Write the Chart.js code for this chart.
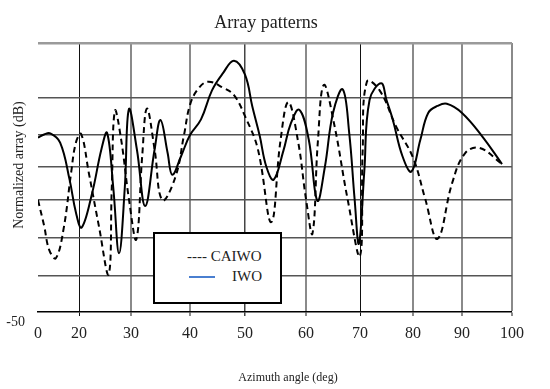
<!DOCTYPE html>
<html lang="en">
<head>
    <meta charset="UTF-8">
    <title>Array patterns</title>
    <script src="https://cdn.jsdelivr.net/npm/chart.js"></script>
    <style>
        body { margin: 0; background: #fff; }
        #wrap { position: relative; width: 550px; height: 389px; }
        #legendBox {
            position: absolute; left: 153px; top: 232px; width: 125px; height: 68px;
            border: 2px solid #000; background: #fff;
            font-family: "Liberation Serif", serif; font-size: 15px; color: #222;
        }
        #legendBox .row { position: absolute; white-space: nowrap; }
        #legendBox .blue { position: absolute; left: 34px; top: 42px; width: 26px; height: 2px; background: #4a7fd0; }
    </style>
</head>
<body>
<div id="wrap">
    <canvas id="chart" width="550" height="389"></canvas>
    <!-- legenda disegnata a mano come nell'originale -->
    <div id="legendBox">
        <div class="row" style="left:32px; top:14px;">---- CAIWO</div>
        <div class="blue"></div>
        <div class="row" style="left:77px; top:34px;">IWO</div>
    </div>
</div>

<script>
    // asse x: etichette e gradi corrispondenti
    const tickDeg = [0, 20, 30, 40, 50, 60, 70, 80, 90, 100];
    const tickLabels = ['0', '20', '30', '40', '50', '60', '70', '80', '90', '100'];
    // l'asse dell'originale non e' lineare: posizione di ogni tacca lungo l'asse
    const tickStops = [0, 41, 93, 152, 207, 268, 322, 375, 424, 474];

    // livelli delle linee orizzontali (dB)
    const yGrid = [-50, -43.3, -36.2, -29.2, -23, -17.1, -10.2, 0];

    // IWO (linea continua)
    const iwoDeg = [0, 3, 6, 10.8, 15.4, 18.5, 20.5, 22.5, 24.3, 25.4,
        26.6, 27.7, 28.8, 29.6, 31, 32.4, 34, 35, 36.2, 37,
        38.5, 40, 42, 44, 46, 48, 50, 51.2, 52.4, 53.5,
        54.7, 56.3, 57.5, 58.9, 60.5, 62.1, 63.5, 65, 66.8, 68,
        69, 69.8, 70.8, 71.8, 74, 75, 76.2, 78, 79.7, 81.5,
        83.1, 85, 86.9, 90, 94, 98];
    const iwoDb = [-17.6, -17, -16.8, -18.5, -25.4, -31.5, -34.3, -28, -19.8, -16.7,
        -27, -39.1, -27, -12.3, -19.8, -30.3, -19.8, -14.3, -20.4, -24.5,
        -21, -17.1, -14.2, -8.8, -5.6, -3.3, -5.9, -11.8, -17.2, -23,
        -25.4, -20, -15, -12.4, -17.9, -29.3, -23, -13, -8.6, -16.7,
        -29, -37.3, -24, -10.6, -7.5, -10.6, -14.3, -21, -23.9, -18,
        -13, -11.7, -11.3, -13, -17.3, -22.5];

    // CAIWO (linea tratteggiata)
    const caiwoDeg = [0, 3, 5.5, 8.7, 12.5, 16.2, 18.5, 20.4, 21.9, 23.8,
        25.7, 26.3, 26.9, 28.1, 29.6, 30.9, 31.9, 32.7, 34, 35.3,
        37.5, 39, 40, 41.5, 43.3, 46, 48, 50, 52.1, 54.3,
        55.8, 57.1, 58.7, 60, 61.2, 62.2, 63.3, 65.2, 67.7, 70,
        70.5, 71.3, 73.7, 76.8, 80, 82.5, 85, 88, 90.6, 93.5,
        98];
    const caiwoDb = [-29.2, -34, -38.5, -40, -34.5, -24, -18.5, -16.9, -24.2, -33.9,
        -43, -27, -12.6, -17.9, -29, -36.5, -21, -12.2, -19.8, -29.2,
        -25, -17, -11.5, -8.5, -7.2, -8.3, -9.7, -13.6, -19.7, -33.3,
        -18.3, -11, -18.3, -29, -35.4, -18.3, -7.8, -15, -29, -39.6,
        -20, -7.2, -8.8, -15.5, -21.3, -29, -36.4, -26, -20.5, -19.5,
        -22.5];

    // gradi -> posizione sull'asse (interpolazione a tratti)
    function warp(d) {
        for (let i = 1; i < tickDeg.length; i++) {
            if (d <= tickDeg[i]) {
                const t = (d - tickDeg[i - 1]) / (tickDeg[i] - tickDeg[i - 1]);
                return tickStops[i - 1] + t * (tickStops[i] - tickStops[i - 1]);
            }
        }
        return tickStops[tickStops.length - 1];
    }

    const toPoints = (xs, ys) => xs.map((d, i) => ({ x: warp(d), y: ys[i] }));

    const xGridColors = ['rgba(0,0,0,0)', '#111', '#8a8a8a', '#8a8a8a', '#444', '#8a8a8a', '#111', '#8a8a8a', '#8a8a8a', '#8a8a8a'];
    const xGridWidths = [0, 1, 2, 2, 1.5, 2, 1, 2, 2, 2];

    // titoli disegnati a mano per rispettare la posizione dell'originale
    const textPlugin = {
        id: 'texts',
        afterDraw(chart) {
            const ctx = chart.ctx;
            ctx.save();
            ctx.fillStyle = '#222';
            ctx.textAlign = 'center';
            ctx.textBaseline = 'alphabetic';
            ctx.font = '18px "Liberation Serif"';
            ctx.fillText('Array patterns', 266, 28);
            ctx.font = '12px "Liberation Serif"';
            ctx.fillText('Azimuth angle (deg)', 288, 381);
            ctx.translate(23, 165);
            ctx.rotate(-Math.PI / 2);
            ctx.font = '14px "Liberation Serif"';
            ctx.fillText('Normalized array (dB)', 0, 0);
            ctx.restore();
        }
    };

    const ctx = document.getElementById('chart').getContext('2d');
    const chart = new Chart(ctx, {
        type: 'line',
        data: {
            datasets: [
                {
                    label: 'IWO',
                    data: toPoints(iwoDeg, iwoDb),
                    borderColor: '#000',
                    borderWidth: 2,
                    pointRadius: 0,
                    tension: 0.4,
                    fill: false
                },
                {
                    label: 'CAIWO',
                    data: toPoints(caiwoDeg, caiwoDb),
                    borderColor: '#000',
                    borderWidth: 2,
                    borderDash: [6, 4],
                    pointRadius: 0,
                    tension: 0.4,
                    fill: false
                }
            ]
        },
        options: {
            responsive: false,
            animation: false,
            layout: { padding: { top: 43, right: 38, left: 0, bottom: 0 } },
            plugins: {
                legend: { display: false },
                title: { display: false },
                tooltip: { enabled: false }
            },
            scales: {
                x: {
                    type: 'linear',
                    min: 0,
                    max: 474,
                    afterBuildTicks: scale => { scale.ticks = tickDeg.map(d => ({ value: warp(d) })); },
                    afterFit: scale => { scale.height = 77; },
                    ticks: {
                        autoSkip: false,
                        maxRotation: 0,
                        padding: 8,
                        color: '#222',
                        font: { family: 'Liberation Serif', size: 16 },
                        callback: (v, i) => tickLabels[i]
                    },
                    grid: {
                        color: c => xGridColors[c.index],
                        lineWidth: c => xGridWidths[c.index],
                        tickLength: 4
                    },
                    border: { display: true, color: '#000', width: 1.5 }
                },
                y: {
                    min: -50,
                    max: 0,
                    afterBuildTicks: scale => { scale.ticks = yGrid.map(v => ({ value: v })); },
                    afterFit: scale => { scale.width = 38; },
                    ticks: {
                        padding: 13,
                        labelOffset: 10,
                        color: '#222',
                        font: { family: 'Liberation Serif', size: 14 },
                        callback: v => (v === -50 ? '-50' : '')
                    },
                    grid: {
                        drawTicks: false,
                        color: c => (c.tick.value === 0 ? '#9a9a9a' : c.tick.value === -50 ? 'rgba(0,0,0,0)' : '#555'),
                        lineWidth: c => (c.tick.value === 0 ? 2.5 : 1.5)
                    },
                    border: { display: false }
                }
            }
        },
        plugins: [textPlugin]
    });
</script>
</body>
</html>
